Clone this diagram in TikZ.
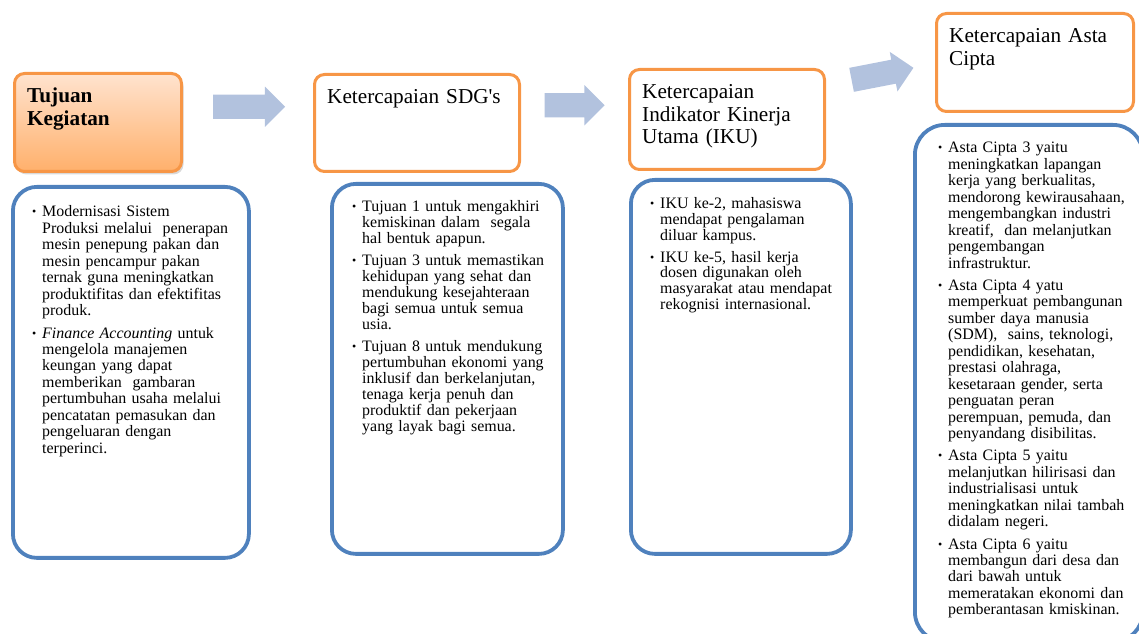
\documentclass[tikz,border=0pt]{standalone}
\usepackage{fontspec}
\setmainfont{Liberation Serif}
\usetikzlibrary{calc,positioning,shapes.arrows,shadows}
\definecolor{oranye}{HTML}{F79646}
\definecolor{oranyeatas}{HTML}{FFE3CF}
\definecolor{oranyebawah}{HTML}{FFB06B}
\definecolor{biru}{HTML}{4F81BD}
\definecolor{panah}{HTML}{B2C2DE}
\tikzset{
  judul/.style={draw=oranye, line width=3bp, rounded corners=10bp, fill=white, inner sep=0pt},
  judulpolos/.style={},
  judulgradasi/.style={top color=oranyeatas, bottom color=oranyebawah,
    drop shadow={opacity=0.3, shadow xshift=2bp, shadow yshift=-3bp}},
  isi/.style={draw=biru, line width=3.8bp, rounded corners=24bp, inner sep=0pt},
  teksjudul/.style={anchor=base west, inner sep=0pt, text width=180bp, align=left,
    font=\fontsize{21.3}{22.4}\selectfont},
  teksisi/.style={anchor=base west, inner sep=0pt, text width=260bp},
  blokpanah/.style={single arrow, fill=panah, draw=none, minimum width=40bp,
    single arrow head extend=8bp, single arrow tip angle=90, inner sep=12bp}
}
\def\butir#1{\leftskip=10bp\noindent\llap{\makebox[10bp][l]{\raisebox{1bp}{\fontsize{12}{12}\selectfont\textbullet}}}#1\par\vspace{6bp}}
\def\kotakjudul(#1,#2,#3,#4,#5,#6)#7{
  \node[judul, #2, anchor=north west, minimum width=#5bp, minimum height=#6bp] (#1) at (#3,#4) {};
  \node[teksjudul] (#1t) at ($(#1.north west)+(14,-31)$) {#7};
}
\begin{document}
\begin{tikzpicture}[x=1bp,y=1bp]
\useasboundingbox (0,0) rectangle (1139,634);
\kotakjudul(h1,judulgradasi,13,562,167,98){{\bfseries Tujuan\\ Kegiatan}}
\kotakjudul(h2,judulpolos,313,561,205,97){Ketercapaian SDG\textquotesingle s}
\kotakjudul(h3,judulpolos,628,566,195,100){Ketercapaian\\ Indikator Kinerja\\ Utama (IKU)}
\kotakjudul(h4,judulpolos,935,622,197,98){Ketercapaian Asta\\ Cipta}
\node[blokpanah, minimum height=72bp] (p1) at ($(h1.east)!0.5!(h2.west)+(-5,16)$) {};
\node[blokpanah, minimum height=60bp] (p2) at ($(h2.east)!0.5!(h3.west)+(-6,16)$) {};
\node[blokpanah, minimum height=63bp, rotate=11] (p3) at ($(h3.east)!0.5!(h4.west)+(-4,16)$) {};
\node[isi, anchor=north west, minimum width=236bp, minimum height=371bp] (b1) at (11,449) {};
\node[isi, anchor=north west, minimum width=231bp, minimum height=370bp] (b2) at (330,452) {};
\node[isi, anchor=north west, minimum width=220bp, minimum height=374bp] (b3) at (629,456) {};
\node[isi, anchor=north west, minimum width=228bp, minimum height=517bp, rounded corners=30bp] (b4) at (913,511) {};
\node[teksisi, font=\fontsize{16}{16.5}\selectfont] (b1t) at ($(b1.north west)+(21,-32)$) {%
\butir{Modernisasi Sistem\\ Produksi melalui \ penerapan\\ mesin penepung pakan dan\\ mesin pencampur pakan\\ ternak guna meningkatkan\\ produktifitas dan efektifitas\\ produk.}%
\butir{\textit{Finance Accounting} untuk\\ mengelola manajemen\\ keungan yang dapat\\ memberikan \ gambaran\\ pertumbuhan usaha melalui\\ pencatatan pemasukan dan\\ pengeluaran dengan\\ terperinci.}};
\node[teksisi, font=\fontsize{16}{16}\selectfont] (b2t) at ($(b2.north west)+(22,-30)$) {%
\butir{Tujuan 1 untuk mengakhiri\\ kemiskinan dalam \ segala\\ hal bentuk apapun.}%
\butir{Tujuan 3 untuk memastikan\\ kehidupan yang sehat dan\\ mendukung kesejahteraan\\ bagi semua untuk semua\\ usia.}%
\butir{Tujuan 8 untuk mendukung\\ pertumbuhan ekonomi yang\\ inklusif dan berkelanjutan,\\ tenaga kerja penuh dan\\ produktif dan pekerjaan\\ yang layak bagi semua.}};
\node[teksisi, font=\fontsize{16}{15.8}\selectfont] (b3t) at ($(b3.north west)+(21,-31)$) {%
\butir{IKU ke-2, mahasiswa\\ mendapat pengalaman\\ diluar kampus.}%
\butir{IKU ke-5, hasil kerja\\ dosen digunakan oleh\\ masyarakat atau mendapat\\ rekognisi internasional.}};
\node[teksisi, font=\fontsize{16}{16.5}\selectfont] (b4t) at ($(b4.north west)+(25,-30)$) {%
\butir{Asta Cipta 3 yaitu\\ meningkatkan lapangan\\ kerja yang berkualitas,\\ mendorong kewirausahaan,\\ mengembangkan industri\\ kreatif, \ dan melanjutkan\\ pengembangan\\ infrastruktur.}%
\butir{Asta Cipta 4 yatu\\ memperkuat pembangunan\\ sumber daya manusia\\ (SDM), \ sains, teknologi,\\ pendidikan, kesehatan,\\ prestasi olahraga,\\ kesetaraan gender, serta\\ penguatan peran\\ perempuan, pemuda, dan\\ penyandang disibilitas.}%
\butir{Asta Cipta 5 yaitu\\ melanjutkan hilirisasi dan\\ industrialisasi untuk\\ meningkatkan nilai tambah\\ didalam negeri.}%
\butir{Asta Cipta 6 yaitu\\ membangun dari desa dan\\ dari bawah untuk\\ memeratakan ekonomi dan\\ pemberantasan kmiskinan.}};
\end{tikzpicture}
\end{document}
